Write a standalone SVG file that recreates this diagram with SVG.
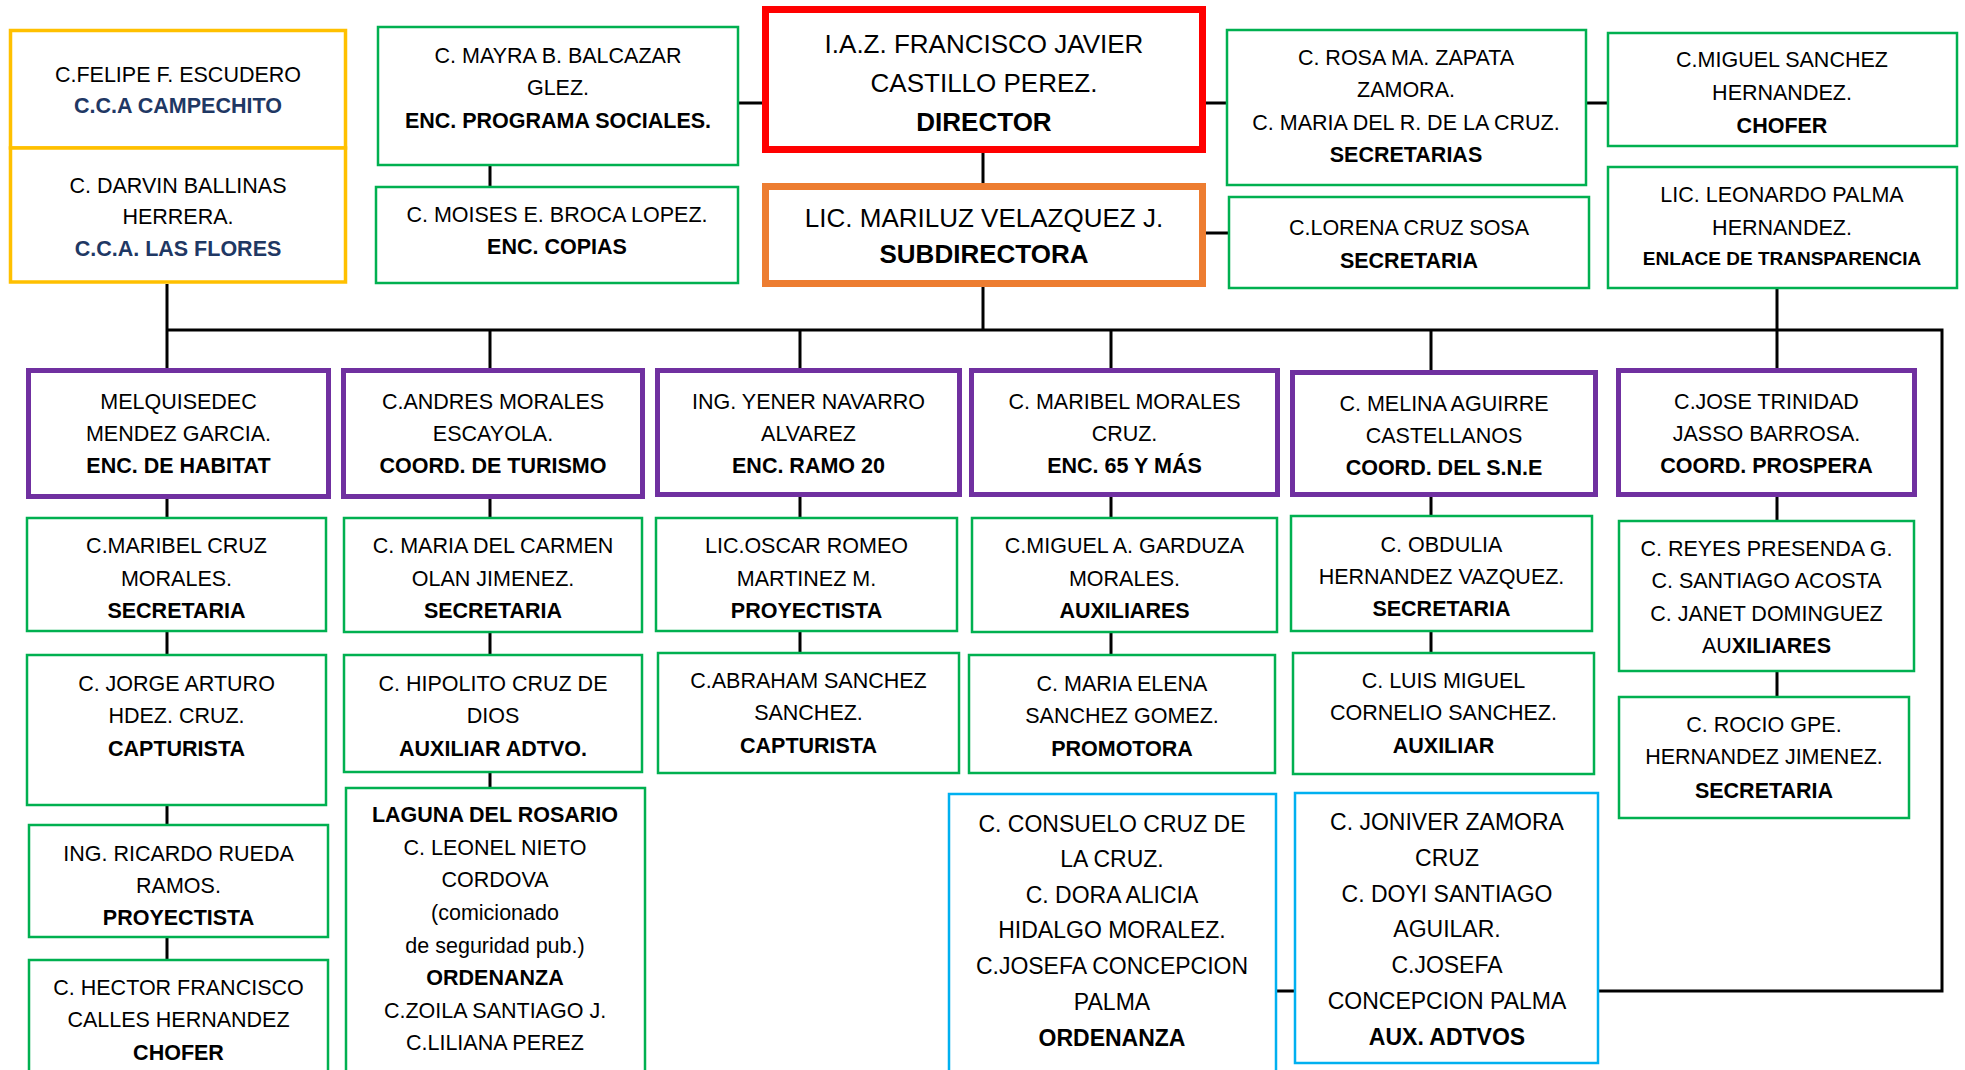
<svg xmlns="http://www.w3.org/2000/svg" width="1965" height="1070" viewBox="0 0 1965 1070">
<style>
text{font-family:"Liberation Sans",Arial,sans-serif;font-size:21.5px;fill:#000;text-anchor:middle}
.b{font-weight:bold}
.nv{font-weight:bold;fill:#1F3864}
.big{font-size:26px}
.bl{font-size:23px}
.sm{font-size:19px;font-weight:bold}
rect{fill:#fff}
.g{stroke:#00B050;stroke-width:2.5}
.y{stroke:#FFC000;stroke-width:3.5}
.p{stroke:#7030A0;stroke-width:5}
.c{stroke:#00B0F0;stroke-width:2.5}
.rd{stroke:#FF0000;stroke-width:7}
.or{stroke:#ED7D31;stroke-width:7}
#connectors path{fill:none;stroke:#000;stroke-width:3}
</style>
<rect x="0" y="0" width="1965" height="1070" style="fill:#fff"/>
<g id="connectors">
<path d="M167,284V368M167,330H1942V991H1599M1294,991H1277"/>
<path d="M739,103H762M1206,103H1226M1587,103H1607M1206,233H1228"/>
<path d="M490,166V186M983,153V183M983,287V330M1777,289V330"/>
<path d="M490,330V368M800,330V368M1111,330V368M1431,330V370M1777,330V368"/>
<path d="M167,499V517M490,499V517M800,497V517M1111,497V517M1431,497V515M1777,497V520"/>
<path d="M167,632V654M490,633V654M800,632V652M1111,633V654M1431,632V652M1777,672V696"/>
<path d="M167,806V824M167,938V959M490,773V787"/>
</g>
<g id="n-felipe"><rect class="y" x="10.5" y="30.5" width="335" height="117.5"/><text x="178" y="82">C.FELIPE F. ESCUDERO</text><text class="nv" x="178" y="113">C.C.A CAMPECHITO</text></g>
<g id="n-darvin"><rect class="y" x="10.5" y="148" width="335" height="134"/><text x="178" y="193">C. DARVIN BALLINAS</text><text x="178" y="224">HERRERA.</text><text class="nv" x="178" y="256">C.C.A. LAS FLORES</text></g>
<g id="n-mayra"><rect class="g" x="378" y="27" width="360" height="138"/><text x="558" y="63">C. MAYRA B. BALCAZAR</text><text x="558" y="95">GLEZ.</text><text class="b" x="558" y="128">ENC. PROGRAMA SOCIALES.</text></g>
<g id="n-moises"><rect class="g" x="376" y="187" width="362" height="96"/><text x="557" y="222">C. MOISES E. BROCA LOPEZ.</text><text class="b" x="557" y="254">ENC. COPIAS</text></g>
<g id="n-director"><rect class="rd" x="765.5" y="9.5" width="437" height="140"/><text class="big" x="984" y="53">I.A.Z. FRANCISCO JAVIER</text><text class="big" x="984" y="92">CASTILLO PEREZ.</text><text class="big b" x="984" y="131">DIRECTOR</text></g>
<g id="n-subdirectora"><rect class="or" x="765.5" y="186.5" width="437" height="97"/><text class="big" x="984" y="227">LIC. MARILUZ VELAZQUEZ J.</text><text class="big b" x="984" y="263">SUBDIRECTORA</text></g>
<g id="n-rosa"><rect class="g" x="1227" y="30" width="359" height="155"/><text x="1406" y="65">C. ROSA MA. ZAPATA</text><text x="1406" y="97">ZAMORA.</text><text x="1406" y="130">C. MARIA DEL R. DE LA CRUZ.</text><text class="b" x="1406" y="162">SECRETARIAS</text></g>
<g id="n-lorena"><rect class="g" x="1229" y="197" width="360" height="91"/><text x="1409" y="235">C.LORENA CRUZ SOSA</text><text class="b" x="1409" y="268">SECRETARIA</text></g>
<g id="n-miguel"><rect class="g" x="1608" y="33" width="349" height="113"/><text x="1782" y="67">C.MIGUEL SANCHEZ</text><text x="1782" y="100">HERNANDEZ.</text><text class="b" x="1782" y="133">CHOFER</text></g>
<g id="n-leonardo"><rect class="g" x="1608" y="167" width="349" height="121"/><text x="1782" y="202">LIC. LEONARDO PALMA</text><text x="1782" y="235">HERNANDEZ.</text><text class="sm" x="1782" y="265">ENLACE DE TRANSPARENCIA</text></g>
<g id="n-melquisedec"><rect class="p" x="28.5" y="370.5" width="300" height="126"/><text x="178.5" y="409">MELQUISEDEC</text><text x="178.5" y="441">MENDEZ GARCIA.</text><text class="b" x="178.5" y="473">ENC. DE HABITAT</text></g>
<g id="n-andres"><rect class="p" x="343.5" y="370.5" width="299" height="126"/><text x="493" y="409">C.ANDRES MORALES</text><text x="493" y="441">ESCAYOLA.</text><text class="b" x="493" y="473">COORD. DE TURISMO</text></g>
<g id="n-yener"><rect class="p" x="657.5" y="370.5" width="302" height="124"/><text x="808.5" y="409">ING. YENER NAVARRO</text><text x="808.5" y="441">ALVAREZ</text><text class="b" x="808.5" y="473">ENC. RAMO 20</text></g>
<g id="n-maribel-morales"><rect class="p" x="971.5" y="370.5" width="306" height="124"/><text x="1124.5" y="409">C. MARIBEL MORALES</text><text x="1124.5" y="441">CRUZ.</text><text class="b" x="1124.5" y="473">ENC. 65 Y MÁS</text></g>
<g id="n-melina"><rect class="p" x="1292.5" y="372.5" width="303" height="122"/><text x="1444" y="411">C. MELINA AGUIRRE</text><text x="1444" y="443">CASTELLANOS</text><text class="b" x="1444" y="475">COORD. DEL S.N.E</text></g>
<g id="n-jose"><rect class="p" x="1618.5" y="370.5" width="296" height="124"/><text x="1766.5" y="409">C.JOSE TRINIDAD</text><text x="1766.5" y="441">JASSO BARROSA.</text><text class="b" x="1766.5" y="473">COORD. PROSPERA</text></g>
<g id="n-maribel-cruz"><rect class="g" x="27" y="518" width="299" height="113"/><text x="176.5" y="553">C.MARIBEL CRUZ</text><text x="176.5" y="586">MORALES.</text><text class="b" x="176.5" y="618">SECRETARIA</text></g>
<g id="n-maria-carmen"><rect class="g" x="344" y="518" width="298" height="114"/><text x="493" y="553">C. MARIA DEL CARMEN</text><text x="493" y="586">OLAN JIMENEZ.</text><text class="b" x="493" y="618">SECRETARIA</text></g>
<g id="n-oscar"><rect class="g" x="656" y="518" width="301" height="113"/><text x="806.5" y="553">LIC.OSCAR ROMEO</text><text x="806.5" y="586">MARTINEZ M.</text><text class="b" x="806.5" y="618">PROYECTISTA</text></g>
<g id="n-miguel-garduza"><rect class="g" x="972" y="518" width="305" height="114"/><text x="1124.5" y="553">C.MIGUEL A. GARDUZA</text><text x="1124.5" y="586">MORALES.</text><text class="b" x="1124.5" y="618">AUXILIARES</text></g>
<g id="n-obdulia"><rect class="g" x="1291" y="516" width="301" height="115"/><text x="1441.5" y="552">C. OBDULIA</text><text x="1441.5" y="584">HERNANDEZ VAZQUEZ.</text><text class="b" x="1441.5" y="616">SECRETARIA</text></g>
<g id="n-reyes"><rect class="g" x="1619" y="521" width="295" height="150"/><text x="1766.5" y="556">C. REYES PRESENDA G.</text><text x="1766.5" y="588">C. SANTIAGO ACOSTA</text><text x="1766.5" y="621">C. JANET DOMINGUEZ</text><text x="1766.5" y="653">AU<tspan class="b">XILIARES</tspan></text></g>
<g id="n-jorge"><rect class="g" x="27" y="655" width="299" height="150"/><text x="176.5" y="691">C. JORGE ARTURO</text><text x="176.5" y="723">HDEZ. CRUZ.</text><text class="b" x="176.5" y="756">CAPTURISTA</text></g>
<g id="n-hipolito"><rect class="g" x="344" y="655" width="298" height="117"/><text x="493" y="691">C. HIPOLITO CRUZ DE</text><text x="493" y="723">DIOS</text><text class="b" x="493" y="756">AUXILIAR ADTVO.</text></g>
<g id="n-abraham"><rect class="g" x="658" y="653" width="301" height="120"/><text x="808.5" y="688">C.ABRAHAM SANCHEZ</text><text x="808.5" y="720">SANCHEZ.</text><text class="b" x="808.5" y="753">CAPTURISTA</text></g>
<g id="n-maria-elena"><rect class="g" x="969" y="655" width="306" height="118"/><text x="1122" y="691">C. MARIA ELENA</text><text x="1122" y="723">SANCHEZ GOMEZ.</text><text class="b" x="1122" y="756">PROMOTORA</text></g>
<g id="n-luis"><rect class="g" x="1293" y="653" width="301" height="121"/><text x="1443.5" y="688">C. LUIS MIGUEL</text><text x="1443.5" y="720">CORNELIO SANCHEZ.</text><text class="b" x="1443.5" y="753">AUXILIAR</text></g>
<g id="n-rocio"><rect class="g" x="1619" y="697" width="290" height="121"/><text x="1764" y="732">C. ROCIO GPE.</text><text x="1764" y="764">HERNANDEZ JIMENEZ.</text><text class="b" x="1764" y="798">SECRETARIA</text></g>
<g id="n-ricardo"><rect class="g" x="29" y="825" width="299" height="112"/><text x="178.5" y="861">ING. RICARDO RUEDA</text><text x="178.5" y="893">RAMOS.</text><text class="b" x="178.5" y="925">PROYECTISTA</text></g>
<g id="n-hector"><rect class="g" x="29" y="960" width="299" height="120"/><text x="178.5" y="995">C. HECTOR FRANCISCO</text><text x="178.5" y="1027">CALLES HERNANDEZ</text><text class="b" x="178.5" y="1060">CHOFER</text></g>
<g id="n-laguna"><rect class="g" x="346" y="788" width="299" height="292"/><text class="b" x="495" y="822">LAGUNA DEL ROSARIO</text><text x="495" y="855">C. LEONEL NIETO</text><text x="495" y="887">CORDOVA</text><text x="495" y="920">(comicionado</text><text x="495" y="953">de seguridad pub.)</text><text class="b" x="495" y="985">ORDENANZA</text><text x="495" y="1018">C.ZOILA SANTIAGO J.</text><text x="495" y="1050">C.LILIANA PEREZ</text></g>
<g id="n-consuelo"><rect class="c" x="949" y="794" width="327" height="286"/><text class="bl" x="1112" y="832">C. CONSUELO CRUZ DE</text><text class="bl" x="1112" y="867">LA CRUZ.</text><text class="bl" x="1112" y="903">C. DORA ALICIA</text><text class="bl" x="1112" y="938">HIDALGO MORALEZ.</text><text class="bl" x="1112" y="974">C.JOSEFA CONCEPCION</text><text class="bl" x="1112" y="1010">PALMA</text><text class="bl b" x="1112" y="1046">ORDENANZA</text></g>
<g id="n-joniver"><rect class="c" x="1295" y="793" width="303" height="270"/><text class="bl" x="1447" y="830">C. JONIVER ZAMORA</text><text class="bl" x="1447" y="866">CRUZ</text><text class="bl" x="1447" y="902">C. DOYI SANTIAGO</text><text class="bl" x="1447" y="937">AGUILAR.</text><text class="bl" x="1447" y="973">C.JOSEFA</text><text class="bl" x="1447" y="1009">CONCEPCION PALMA</text><text class="bl b" x="1447" y="1045">AUX. ADTVOS</text></g>
</svg>
